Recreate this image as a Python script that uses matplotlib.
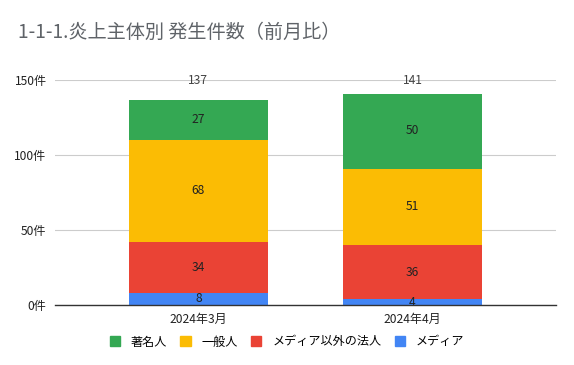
import matplotlib
matplotlib.use("Agg")
import matplotlib.pyplot as plt
from matplotlib.patches import Patch

plt.rcParams['font.family'] = ['Noto Sans CJK JP', 'DejaVu Sans']

months = ["2024年3月", "2024年4月"]
series_names = ["メディア", "メディア以外の法人", "一般人", "著名人"]
media = [8, 4]
corporate = [34, 36]
general = [68, 51]
famous = [27, 50]
series_values = [media, corporate, general, famous]
colors = ["#4285F4", "#EA4335", "#FBBC04", "#34A853"]
yticks = [0, 50, 100, 150]

fig = plt.figure(figsize=(5.74, 3.65), dpi=100)
ax = fig.add_axes([55 / 574, 1 - 305 / 365, 501 / 574, 225 / 365])

x = list(range(len(months)))
bottoms = [0] * len(months)
for name, vals, col in zip(series_names, series_values, colors):
    ax.bar(x, vals, bottom=bottoms, width=0.65, color=col, zorder=2)
    for xi, v, b in zip(x, vals, bottoms):
        ax.text(xi, b + v / 2, str(v), ha="center", va="center",
                fontsize=8.7, color="#222222", zorder=3)
    bottoms = [b + v for b, v in zip(bottoms, vals)]

for xi, tot in zip(x, bottoms):
    ax.text(xi, 150, str(tot), ha="center", va="center", fontsize=8.7,
            color="#444444")

ax.set_xlim(-0.67, 1.67)
ax.set_ylim(0, 150)
ax.set_yticks(yticks)
ax.set_yticklabels([f"{t}件" for t in yticks], fontsize=8.7, color="#222222")
ax.set_xticks(x)
ax.set_xticklabels(months, fontsize=8.7, color="#222222")
ax.tick_params(length=0, pad=6)
ax.grid(axis="y", color="#cccccc", linewidth=0.8, zorder=0)
for s in ["top", "right", "left"]:
    ax.spines[s].set_visible(False)
ax.spines["bottom"].set_color("#333333")
ax.spines["bottom"].set_linewidth(1.0)
ax.spines["bottom"].set_zorder(4)

fig.text(18 / 574, 1 - 32 / 365, "1-1-1.炎上主体別 発生件数（前月比）",
         fontsize=13.8, color="#5f6368", va="center", ha="left")

handles = [Patch(color=c, label=n) for n, c in zip(series_names[::-1], colors[::-1])]
fig.legend(handles=handles, loc="center", bbox_to_anchor=(0.5, 1 - 342 / 365),
           ncol=4, frameon=False, fontsize=8.7, handlelength=0.85, handleheight=0.85,
           columnspacing=1.1, handletextpad=0.9)

fig.savefig("out.png", dpi=100)
